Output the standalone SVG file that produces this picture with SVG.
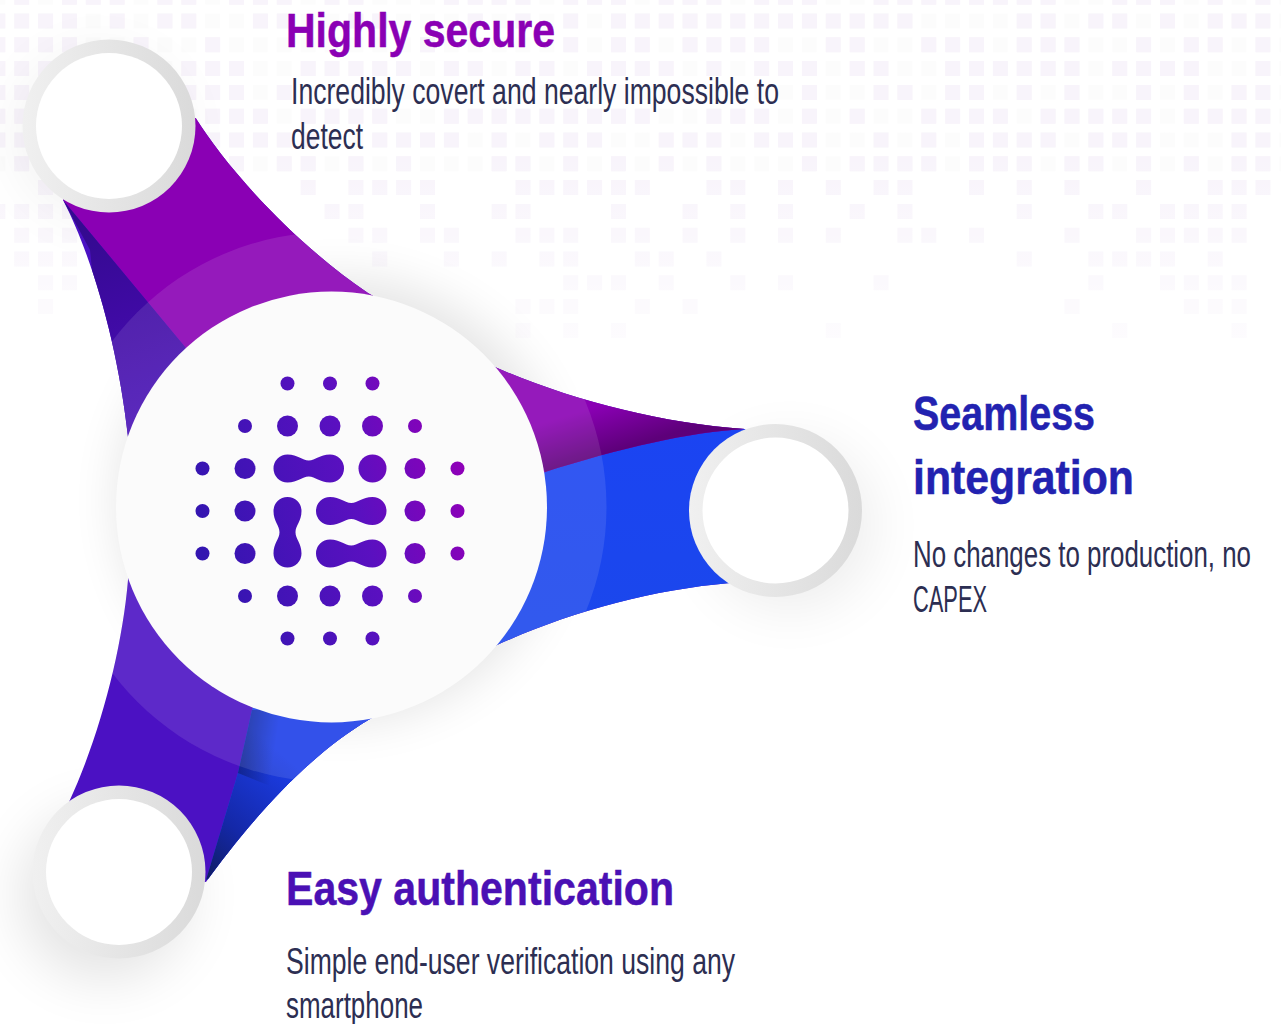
<svg xmlns="http://www.w3.org/2000/svg" width="1281" height="1024" viewBox="0 0 1281 1024">
<style>
text{font-family:"Liberation Sans",Arial,sans-serif}
.h{font-size:49px;font-weight:700;stroke-width:.5px}
.b{font-size:37px;fill:#2c2e52}
.ring{fill:url(#ringG)}
.in{fill:#fff}
.sh{fill:#000;filter:url(#blur)}
.shw{fill:#000;filter:url(#blurW)}
</style>
<defs>
<filter id="blur" x="-50%" y="-50%" width="200%" height="200%"><feGaussianBlur stdDeviation="24"/></filter>
<filter id="blurW" x="-60%" y="-60%" width="220%" height="220%"><feGaussianBlur stdDeviation="28"/></filter>
<filter id="soft" x="-2%" y="-5%" width="104%" height="110%"><feGaussianBlur stdDeviation=".7"/></filter>
<pattern id="ghost" patternUnits="userSpaceOnUse" x="-9.67" y="13.5" width="23.87" height="23.8"><rect width="15" height="15" fill="#fcfcfc"/></pattern>
<linearGradient id="fade" gradientUnits="userSpaceOnUse" x1="0" y1="150" x2="0" y2="345"><stop offset="0" stop-color="#fff" stop-opacity="0"/><stop offset="1" stop-color="#fff" stop-opacity=".72"/></linearGradient>
<linearGradient id="ringG"><stop offset="0" stop-color="#f0f0f0"/><stop offset="1" stop-color="#dadada"/></linearGradient>
<linearGradient id="dots" gradientUnits="userSpaceOnUse" x1="200" y1="540" x2="460" y2="470"><stop offset="0" stop-color="#3315b0"/><stop offset=".6" stop-color="#5a10c0"/><stop offset="1" stop-color="#8d00b8"/></linearGradient>
<linearGradient id="blueG" gradientUnits="userSpaceOnUse" x1="600" y1="430" x2="600" y2="620"><stop offset="0" stop-color="#1b44f2"/><stop offset="1" stop-color="#1b47ec"/></linearGradient>
<linearGradient id="tipG" gradientUnits="userSpaceOnUse" x1="205" y1="880" x2="300" y2="770"><stop offset="0" stop-color="#101c60"/><stop offset=".4" stop-color="#1428a8"/><stop offset="1" stop-color="#1c3ee8"/></linearGradient>
<linearGradient id="seamG" gradientUnits="userSpaceOnUse" x1="240" y1="745" x2="275" y2="750"><stop offset="0" stop-color="#000" stop-opacity=".3"/><stop offset="1" stop-color="#000" stop-opacity="0"/></linearGradient>
<linearGradient id="darkG" gradientUnits="userSpaceOnUse" x1="604" y1="404" x2="618" y2="450"><stop offset="0" stop-color="#4a0060" stop-opacity="0"/><stop offset="1" stop-color="#4a0060" stop-opacity=".7"/></linearGradient>
<linearGradient id="leftG" gradientUnits="userSpaceOnUse" x1="80" y1="230" x2="150" y2="430"><stop offset="0" stop-color="#340a90"/><stop offset=".45" stop-color="#3f0aa4"/><stop offset="1" stop-color="#4a12b8"/></linearGradient>
<clipPath id="star"><path d="M195.700 118C225 165 290 240 368 293L495 367C570 400 660 423 745 429L775 510L730 583C650 590 570 612 497 645L370 719C300 760 240 835 206 882L119 872L69 802C100 735 122 650 128 580V437C118 345 92 256 63 200L109 126Z"/></clipPath>
</defs>
<g id="background">
<rect width="1281" height="1024" fill="#fff"/>
<rect width="1281" height="178" fill="url(#ghost)"/>
<g filter="url(#soft)"><g transform="translate(-9.67 21) scale(23.87 23.8)"><path fill="none" stroke="#f8f4fb" stroke-width=".63" d="M1-1h.63M3-1h.63M4-1h.63M5-1h.63M7-1h.63M8-1h.63M10-1h.63M11-1h.63M12-1h.63M14-1h.63M15-1h.63M19-1h.63M20-1h.63M21-1h.63M22-1h.63M24-1h.63M25-1h.63M26-1h.63M28-1h.63M29-1h.63M30-1h.63M32-1h.63M33-1h.63M34-1h.63M37-1h.63M38-1h.63M39-1h.63M40-1h.63M41-1h.63M42-1h.63M43-1h.63M44-1h.63M47-1h.63M48-1h.63M49-1h.63M51-1h.63M53-1h.63
M0 0h.63M1 0h.63M2 0h.63M3 0h.63M5 0h.63M7 0h.63M8 0h.63M11 0h.63M12 0h.63M15 0h.63M16 0h.63M20 0h.63M22 0h.63M24 0h.63M26 0h.63M27 0h.63M28 0h.63M29 0h.63M30 0h.63M31 0h.63M32 0h.63M33 0h.63M34 0h.63M35 0h.63M36 0h.63M37 0h.63M38 0h.63M43 0h.63M44 0h.63M46 0h.63M47 0h.63M49 0h.63M51 0h.63M52 0h.63M53 0h.63
M0 1h.63M1 1h.63M2 1h.63M3 1h.63M6 1h.63M9 1h.63M18 1h.63M24 1h.63M26 1h.63M27 1h.63M29 1h.63M30 1h.63M31 1h.63M32 1h.63M35 1h.63M36 1h.63M39 1h.63M40 1h.63M41 1h.63M43 1h.63M44 1h.63M45 1h.63M48 1h.63M50 1h.63M51 1h.63M53 1h.63
M0 2h.63M1 2h.63M2 2h.63M8 2h.63M9 2h.63M10 2h.63M13 2h.63M14 2h.63M15 2h.63M16 2h.63M17 2h.63M19 2h.63M20 2h.63M22 2h.63M23 2h.63M25 2h.63M26 2h.63M27 2h.63M28 2h.63M30 2h.63M32 2h.63M33 2h.63M34 2h.63M36 2h.63M37 2h.63M40 2h.63M41 2h.63M42 2h.63M43 2h.63M44 2h.63M45 2h.63M47 2h.63M48 2h.63M49 2h.63M50 2h.63M53 2h.63
M0 3h.63M1 3h.63M2 3h.63M8 3h.63M9 3h.63M10 3h.63M12 3h.63M34 3h.63M37 3h.63M38 3h.63M40 3h.63M41 3h.63M43 3h.63M45 3h.63M48 3h.63M50 3h.63M52 3h.63M53 3h.63
M0 4h.63M1 4h.63M3 4h.63M9 4h.63M10 4h.63M11 4h.63M13 4h.63M14 4h.63M15 4h.63M16 4h.63M19 4h.63M20 4h.63M21 4h.63M22 4h.63M23 4h.63M24 4h.63M25 4h.63M26 4h.63M27 4h.63M30 4h.63M31 4h.63M32 4h.63M34 4h.63M36 4h.63M39 4h.63M40 4h.63M41 4h.63M42 4h.63M44 4h.63M45 4h.63M46 4h.63M47 4h.63M48 4h.63M50 4h.63M51 4h.63M52 4h.63M53 4h.63
M0 5h.63M1 5h.63M2 5h.63M3 5h.63M9 5h.63M10 5h.63M11 5h.63M12 5h.63M13 5h.63M16 5h.63M17 5h.63M18 5h.63M19 5h.63M21 5h.63M23 5h.63M24 5h.63M25 5h.63M28 5h.63M29 5h.63M30 5h.63M32 5h.63M33 5h.63M34 5h.63M37 5h.63M39 5h.63M41 5h.63M42 5h.63M43 5h.63M44 5h.63M46 5h.63M47 5h.63M48 5h.63M52 5h.63M53 5h.63
M1 6h.63M2 6h.63M10 6h.63M12 6h.63M13 6h.63M15 6h.63M17 6h.63M21 6h.63M22 6h.63M24 6h.63M26 6h.63M28 6h.63M30 6h.63M34 6h.63M36 6h.63M37 6h.63M38 6h.63M39 6h.63M41 6h.63M42 6h.63M43 6h.63M45 6h.63M46 6h.63M48 6h.63M50 6h.63M52 6h.63M53 6h.63
M2 7h.63M13 7h.63M15 7h.63M16 7h.63M17 7h.63M18 7h.63M22 7h.63M23 7h.63M24 7h.63M25 7h.63M26 7h.63M27 7h.63M30 7h.63M31 7h.63M33 7h.63M35 7h.63M37 7h.63M38 7h.63M41 7h.63M43 7h.63M45 7h.63M48 7h.63M51 7h.63M52 7h.63M53 7h.63
M0 8h.63M1 8h.63M2 8h.63M3 8h.63M14 8h.63M15 8h.63M18 8h.63M21 8h.63M22 8h.63M26 8h.63M29 8h.63M31 8h.63M33 8h.63M36 8h.63M38 8h.63M43 8h.63M46 8h.63M47 8h.63M49 8h.63M50 8h.63M51 8h.63M52 8h.63
M1 9h.63M2 9h.63M3 9h.63M15 9h.63M16 9h.63M18 9h.63M19 9h.63M22 9h.63M23 9h.63M24 9h.63M26 9h.63M27 9h.63M29 9h.63M31 9h.63M33 9h.63M35 9h.63M38 9h.63M39 9h.63M41 9h.63M45 9h.63M48 9h.63M49 9h.63M50 9h.63M51 9h.63M52 9h.63
M1 10h.63M2 10h.63M3 10h.63M16 10h.63M19 10h.63M21 10h.63M23 10h.63M24 10h.63M27 10h.63M28 10h.63M30 10h.63M43 10h.63M46 10h.63M47 10h.63M48 10h.63M49 10h.63M51 10h.63
M2 11h.63M3 11h.63M24 11h.63M25 11h.63M26 11h.63M28 11h.63M31 11h.63M33 11h.63M37 11h.63M46 11h.63M49 11h.63M50 11h.63M51 11h.63M52 11h.63
M2 12h.63M22 12h.63M23 12h.63M24 12h.63M27 12h.63M29 12h.63M45 12h.63M50 12h.63M51 12h.63M52 12h.63
M22 13h.63M24 13h.63M26 13h.63M35 13h.63M47 13h.63M52 13h.63"/></g></g>
<rect y="150" width="1281" height="220" fill="url(#fade)"/>
</g>
<g id="shadows">
<circle class="sh" cx="340" cy="500" r="222" opacity=".1"/>
<circle class="shw" cx="100" cy="135" r="84" opacity=".05"/>
<circle class="shw" cx="790" cy="525" r="84" opacity=".07"/>
<circle class="shw" cx="105" cy="895" r="84" opacity=".11"/>
</g>
<g id="connectors" clip-path="url(#star)">
<rect x="40" y="100" width="760" height="800" fill="#4b11c3"/>
<path d="M745 429C690 432 620 448 545 472L300 540L252 710L238 773L206 880L400 800L800 640V429Z" fill="url(#blueG)"/>
<path d="M252 710L238 773L206 880L300 830L400 700Z" fill="url(#tipG)"/>
<path d="M252 710L238 773L280 790V710Z" fill="url(#seamG)"/>
<path d="M63 200L185 347L400 540L545 472C620 448 690 432 745 429L760 350L190 60L60 150Z" fill="#8a00b4"/>
<path d="M500 360L545 472C620 448 690 432 745 429L740 390Z" fill="url(#darkG)"/>
<path d="M63 200L185 347L170 450H110L90 250Z" fill="url(#leftG)"/>
<circle id="halo" cx="331.500" cy="507" r="275" fill="#fff" opacity=".1"/>
</g>
<g id="node-center">
<circle cx="331.500" cy="507" r="215.500" fill="#fbfbfb"/>
<g id="mark" fill="url(#dots)">
<circle cx="287.500" cy="383.500" r="7"/><circle cx="330" cy="383.500" r="7"/><circle cx="372.500" cy="383.500" r="7"/>
<circle cx="245" cy="426" r="7"/><circle cx="287.500" cy="426" r="10.500"/><circle cx="330" cy="426" r="10.500"/><circle cx="372.500" cy="426" r="10.500"/><circle cx="415" cy="426" r="7"/>
<circle cx="202.500" cy="468.500" r="7"/><circle cx="245" cy="468.500" r="10.500"/><circle cx="372.500" cy="468.500" r="14"/><circle cx="415" cy="468.500" r="10.500"/><circle cx="457.500" cy="468.500" r="7"/>
<circle cx="202.500" cy="511" r="7"/><circle cx="245" cy="511" r="10.500"/><circle cx="415" cy="511" r="10.500"/><circle cx="457.500" cy="511" r="7"/>
<circle cx="202.500" cy="553.500" r="7"/><circle cx="245" cy="553.500" r="10.500"/><circle cx="415" cy="553.500" r="10.500"/><circle cx="457.500" cy="553.500" r="7"/>
<circle cx="245" cy="596" r="7"/><circle cx="287.500" cy="596" r="10.500"/><circle cx="330" cy="596" r="10.500"/><circle cx="372.500" cy="596" r="10.500"/><circle cx="415" cy="596" r="7"/>
<circle cx="287.500" cy="638.500" r="7"/><circle cx="330" cy="638.500" r="7"/><circle cx="372.500" cy="638.500" r="7"/>
<path d="M287.500 454.500C298 454.500 302 460.500 308.750 460.500C315.500 460.500 319.500 454.500 330 454.500A14 14 0 0 1 330 482.500C319.500 482.500 315.500 476.500 308.750 476.500C302 476.500 298 482.500 287.500 482.500A14 14 0 0 1 287.500 454.500Z"/>
<path d="M330 497C340.500 497 344.500 503 351.250 503C358 503 362 497 372.500 497A14 14 0 0 1 372.500 525C362 525 358 519 351.250 519C344.500 519 340.500 525 330 525A14 14 0 0 1 330 497Z"/>
<path d="M330 539.500C340.500 539.500 344.500 545.500 351.250 545.500C358 545.500 362 539.500 372.500 539.500A14 14 0 0 1 372.500 567.500C362 567.500 358 561.500 351.250 561.500C344.500 561.500 340.500 567.500 330 567.500A14 14 0 0 1 330 539.500Z"/>
<path d="M273.500 511C273.500 521.500 279.500 525.500 279.500 532.250C279.500 539 273.500 543 273.500 553.500A14 14 0 0 0 301.500 553.500C301.500 543 295.500 539 295.500 532.250C295.500 525.500 301.500 521.500 301.500 511A14 14 0 0 0 273.500 511Z"/>
</g>
</g>
<g id="node-secure">
<circle class="ring" cx="109" cy="126" r="86.500"/><circle class="in" cx="109" cy="126" r="73"/>
<text class="h" x="286" y="47" fill="#8a00b4" stroke="#8a00b4" textLength="269" lengthAdjust="spacingAndGlyphs">Highly secure</text>
<text class="b" x="291" y="104" textLength="488" lengthAdjust="spacingAndGlyphs">Incredibly covert and nearly impossible to</text>
<text class="b" x="291" y="149" textLength="72" lengthAdjust="spacingAndGlyphs">detect</text>
</g>
<g id="node-seamless">
<circle class="ring" cx="775.500" cy="510.500" r="86.500"/><circle class="in" cx="775.500" cy="510.500" r="73"/>
<text class="h" x="913" y="429.500" fill="#2222b0" stroke="#2222b0" textLength="182" lengthAdjust="spacingAndGlyphs">Seamless</text>
<text class="h" x="913" y="493.500" fill="#2222b0" stroke="#2222b0" textLength="221" lengthAdjust="spacingAndGlyphs">integration</text>
<text class="b" x="913" y="567" textLength="338" lengthAdjust="spacingAndGlyphs">No changes to production, no</text>
<text class="b" x="913" y="612" textLength="74" lengthAdjust="spacingAndGlyphs">CAPEX</text>
</g>
<g id="node-easy">
<circle class="ring" cx="119" cy="872" r="86.500"/><circle class="in" cx="119" cy="872" r="73"/>
<text class="h" x="286" y="904.500" fill="#4a10b4" stroke="#4a10b4" textLength="388" lengthAdjust="spacingAndGlyphs">Easy authentication</text>
<text class="b" x="286" y="974" textLength="449" lengthAdjust="spacingAndGlyphs">Simple end-user verification using any</text>
<text class="b" x="286" y="1018" textLength="137" lengthAdjust="spacingAndGlyphs">smartphone</text>
</g>
</svg>
